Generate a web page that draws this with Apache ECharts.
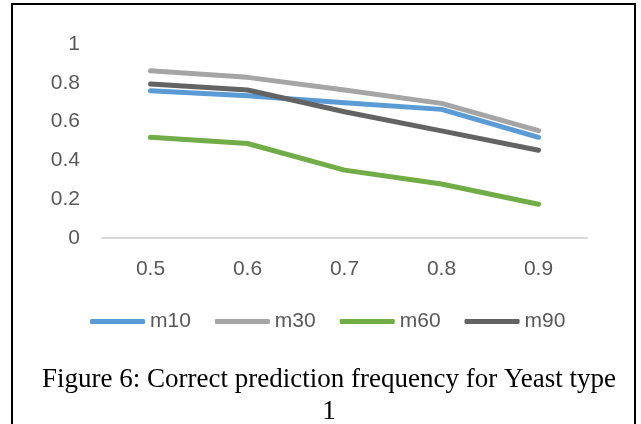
<!DOCTYPE html>
<html>
<head>
<meta charset="utf-8">
<title>Figure 6</title>
<script src="https://cdn.jsdelivr.net/npm/echarts@6/dist/echarts.min.js"></script>
<style>
  html, body { margin: 0; padding: 0; background: #fff; }
  #chart { width: 641px; height: 424px; }
</style>
</head>
<body>
<div id="chart"></div>
<script>
  // x categories (threshold)
  var categories = ['0.5', '0.6', '0.7', '0.8', '0.9'];
  var m10 = [0.759, 0.733, 0.697, 0.663, 0.519];
  var m30 = [0.862, 0.828, 0.763, 0.694, 0.553];
  var m60 = [0.519, 0.487, 0.35, 0.278, 0.174];
  var m90 = [0.794, 0.763, 0.651, 0.552, 0.452];
  var seriesNames = ['m10', 'm30', 'm60', 'm90'];
  var colorList = ['#5b9bd5', '#a5a5a5', '#70ad47', '#636363'];
  var caption = 'Figure 6: Correct prediction frequency for Yeast type\n1';

  var chart = echarts.init(document.getElementById('chart'));
  var allData = [m10, m30, m60, m90];
  var seriesList = [];

  allData.map(function (data, index) {
    seriesList.push({
      name: seriesNames[index],
      type: 'line',
      data: data,
      symbol: 'none',
      animation: false,
      lineStyle: {
        width: 5,
        color: colorList[index],
        cap: 'round',
        join: 'round'
      }
    });
  });

  chart.setOption({
    color: colorList,
    title: {
      text: caption,
      left: 324,
      top: 359,
      textAlign: 'center',
      textStyle: {
        fontFamily: 'Liberation Serif',
        fontWeight: 'normal',
        fontSize: 27,
        lineHeight: 32,
        color: '#000'
      }
    },
    graphic: [{
      type: 'rect',
      shape: { x: 12, y: 4, width: 623, height: 460 },
      style: { fill: 'none', stroke: '#000', lineWidth: 2 }
    }],
    legend: {
      left: 85,
      top: 306,
      icon: 'roundRect',
      itemWidth: 55,
      itemHeight: 5,
      itemGap: 24,
      textStyle: {
        color: '#595959',
        fontFamily: 'Liberation Sans',
        fontSize: 21
      },
      data: seriesNames
    },
    grid: {
      left: 102,
      right: 54,
      top: 44,
      bottom: 186
    },
    xAxis: {
      type: 'category',
      data: categories,
      boundaryGap: true,
      axisLine: { show: true, lineStyle: { color: '#d9d9d9', width: 2 } },
      axisTick: { show: false },
      axisLabel: {
        color: '#595959',
        fontFamily: 'Liberation Sans',
        fontSize: 21,
        margin: 21
      }
    },
    yAxis: {
      type: 'value',
      min: 0,
      max: 1,
      interval: 0.2,
      axisLine: { show: false },
      axisTick: { show: false },
      splitLine: { show: false },
      axisLabel: {
        color: '#595959',
        fontFamily: 'Liberation Sans',
        fontSize: 21,
        margin: 22,
        formatter: function (value) {
          return String(Math.round(value * 10) / 10);
        }
      }
    },
    series: seriesList
  });
</script>
</body>
</html>
